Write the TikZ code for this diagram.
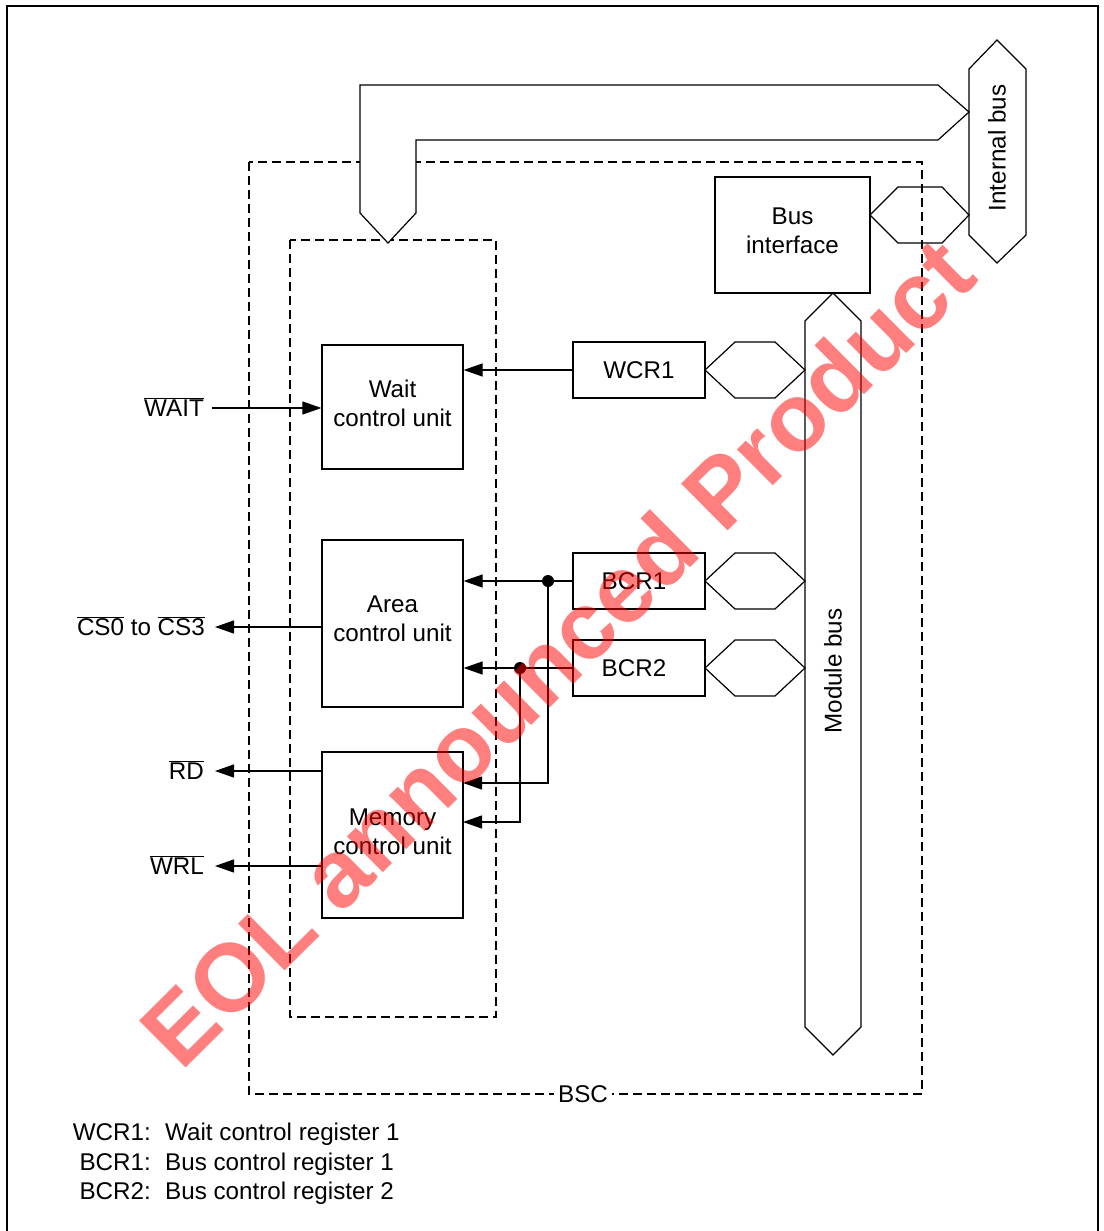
\documentclass[tikz,border=0pt]{standalone}
\usepackage{fontspec}
\setmainfont{Liberation Sans}
\usetikzlibrary{arrows.meta}
\newcommand\mainsz{\fontsize{24.2}{30}\selectfont}
\newcommand\ovl[1]{$\overline{\hbox{#1}}$}
\newcommand\lowstrut[1]{\rule[-#1]{0pt}{#1}}
\begin{document}
\begin{tikzpicture}[x=1pt,y=-1pt,
  ln/.style={line width=1.2pt, line join=miter},
  blk/.style={draw, line width=1.2pt, inner sep=0pt, align=center, font=\mainsz},
  lbl/.style={inner sep=0pt, font=\mainsz, text height=17pt, text depth=0pt},
  dsh/.style={line width=1.2pt, dash pattern=on 9pt off 5pt},
  arr/.style={line width=1.2pt, -{Triangle[length=19pt,width=13pt]}},
  wm/.style={rotate=44.8, text=red, text opacity=0.5, font=\bfseries\fontsize{96}{96}\selectfont, inner sep=0pt}]
\useasboundingbox (0,0) rectangle (1103,1231);
% outer frame
\draw[line width=1.5pt] (7,1245) -- (7,6) -- (1098,6) -- (1098,1245);
% dashed boxes
\draw[dsh] (249,162) rectangle (922,1094);
\draw[dsh] (290,240) rectangle (496,1017);
\node[lbl, fill=white, inner sep=4pt] (bsc) at (583,1094) {BSC};
% internal bus
\draw[ln, fill=white] (997,40) -- (1026,69) -- (1026,235) -- (997,263) -- (969,235) -- (969,69) -- cycle;
\node[lbl, rotate=90] (ibus) at (997,148) {Internal bus};
% L shaped bus
\draw[ln, fill=white] (360,213) -- (360,85) -- (938,85) -- (969,112) -- (938,140) -- (416,140) -- (416,213) -- (388,243) -- cycle;
% bus interface
\node[blk, minimum width=155pt, minimum height=116pt] (bif) at (792.5,235) {Bus\\[-1pt]interface\lowstrut{9pt}};
\draw[ln] (870,215) -- (898,187) -- (942,187) -- (969,215) -- (942,243) -- (898,243) -- cycle;
% module bus
\draw[ln, fill=white] (833,293) -- (861,321) -- (861,1027) -- (833,1055) -- (805,1027) -- (805,321) -- cycle;
\node[lbl, rotate=90] (mbus) at (833,671) {Module bus};
% registers
\node[blk, minimum width=132pt, minimum height=56pt] (wcr1) at (639,370) {WCR1};
\node[blk, minimum width=132pt, minimum height=56pt] (bcr1) at (639,581) {\hspace{-10pt}BCR1};
\node[blk, minimum width=132pt, minimum height=56pt] (bcr2) at (639,668) {\hspace{-10pt}BCR2};
\foreach \yy in {370,581,668}{
  \draw[ln] (705,\yy) -- (735,\yy-28) -- (775,\yy-28) -- (805,\yy) -- (775,\yy+28) -- (735,\yy+28) -- cycle;
}
% control units
\node[blk, minimum width=141pt, minimum height=124pt] (wcu) at (392.5,407) {Wait\\[-1pt]control unit\lowstrut{8pt}};
\node[blk, minimum width=141pt, minimum height=167pt] (acu) at (392.5,623.5) {Area\\[-1pt]control unit\lowstrut{10pt}};
\node[blk, minimum width=141pt, minimum height=166pt] (mcu) at (392.5,835) {Memory\\[-1pt]control unit\lowstrut{7pt}};
% external labels
\node[lbl, anchor=east] (wait) at (204,408) {\ovl{WAIT}};
\node[lbl, anchor=east] (cs) at (205,627) {\ovl{CS0} to \ovl{CS3}};
\node[lbl, anchor=east] (rd) at (204,771) {\ovl{RD}};
\node[lbl, anchor=east] (wrl) at (204,866) {\ovl{WRL}};
% connectors
\draw[arr] ([xshift=8pt]wait.east) -- (wcu.west |- wait.east);
\draw[arr] (wcr1.west) -- (wcu.east |- wcr1.west);
\draw[arr] (acu.west |- cs.east) -- ([xshift=10pt]cs.east);
\draw[arr] (mcu.west |- rd.east) -- ([xshift=11pt]rd.east);
\draw[arr] (mcu.west |- wrl.east) -- ([xshift=11pt]wrl.east);
\coordinate (d1) at (548,581);
\coordinate (d2) at (520,668);
\coordinate (m1) at (463,783);
\coordinate (m2) at (463,822);
\draw[arr] (bcr1.west) -- (acu.east |- bcr1.west);
\draw[arr] (d1) |- (m1);
\draw[arr] (bcr2.west) -- (acu.east |- bcr2.west);
\draw[arr] (d2) |- (m2);
\fill (d1) circle (6pt);
\fill (d2) circle (6pt);
% legend
\node[lbl, anchor=east] (k1) at (151,1132) {WCR1:};
\node[lbl, anchor=west] (v1) at (165,1132) {Wait control register 1};
\node[lbl, anchor=east] (k2) at (151,1162) {BCR1:};
\node[lbl, anchor=west] (v2) at (165,1162) {Bus control register 1};
\node[lbl, anchor=east] (k3) at (151,1191) {BCR2:};
\node[lbl, anchor=west] (v3) at (165,1191) {Bus control register 2};
% watermark
\node[wm] (wmark) at (557,652) {EOL announced Product};
\end{tikzpicture}
\end{document}
